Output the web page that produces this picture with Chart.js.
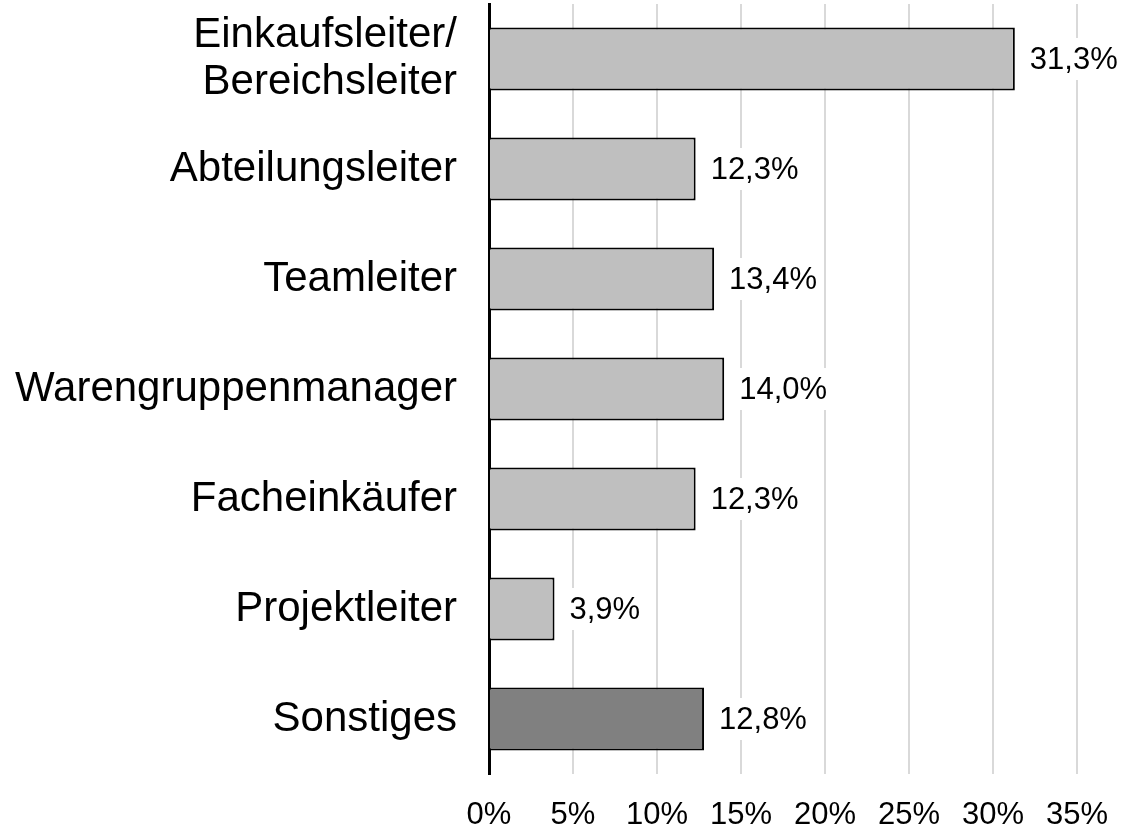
<!DOCTYPE html>
<html>
<head>
<meta charset="utf-8">
<script src="https://cdn.jsdelivr.net/npm/chart.js@4/dist/chart.umd.min.js"></script>
<style>
  html, body { margin: 0; padding: 0; background: #fff; }
  #wrap { width: 1122px; height: 829px; }
</style>
</head>
<body>
<div id="wrap"><canvas id="c" width="1122" height="829"></canvas></div>
<script>
// data
const categories = [
  ['Einkaufsleiter/', 'Bereichsleiter'],
  'Abteilungsleiter',
  'Teamleiter',
  'Warengruppenmanager',
  'Facheinkäufer',
  'Projektleiter',
  'Sonstiges'
];
const shares = [31.3, 12.3, 13.4, 14.0, 12.3, 3.9, 12.8];
const barColors = ['#bfbfbf', '#bfbfbf', '#bfbfbf', '#bfbfbf', '#bfbfbf', '#bfbfbf', '#808080'];
const xTicks = [0, 5, 10, 15, 20, 25, 30, 35];

const FONT = "'Liberation Sans', Arial, sans-serif";

// value labels to the right of each bar, on a white box so grid lines stop behind them
const valueLabels = {
  id: 'valueLabels',
  afterDatasetsDraw(chart) {
    const ctx = chart.ctx;
    const meta = chart.getDatasetMeta(0);
    ctx.save();
    ctx.font = '31px ' + FONT;
    ctx.textBaseline = 'middle';
    ctx.textAlign = 'left';
    meta.data.forEach((bar, i) => {
      const txt = shares[i].toFixed(1).replace('.', ',') + '%';
      const x = bar.x + 15;
      const w = ctx.measureText(txt).width;
      ctx.fillStyle = '#fff';
      ctx.fillRect(x - 4, bar.y - 21, w + 8, 42);
      ctx.fillStyle = '#000';
      ctx.fillText(txt, x, bar.y + 1);
    });
    ctx.restore();
  }
};

new Chart(document.getElementById('c'), {
  type: 'bar',
  data: {
    labels: categories,
    datasets: [{
      data: shares,
      backgroundColor: barColors,
      borderColor: '#000',
      borderWidth: 2,
      borderSkipped: 'start',
      categoryPercentage: 1,
      barPercentage: 0.573
    }]
  },
  options: {
    indexAxis: 'y',
    responsive: false,
    animation: false,
    layout: { padding: { top: 4, right: 45, bottom: 0, left: 0 } },
    plugins: { legend: { display: false }, tooltip: { enabled: false } },
    scales: {
      x: {
        min: 0,
        max: 35,
        afterBuildTicks: (s) => { s.ticks = xTicks.map(v => ({ value: v })); },
        afterFit: (s) => { s.height = 55; s.paddingLeft = 0; s.paddingRight = 0; },
        ticks: {
          callback: (v) => v + '%',
          color: '#000',
          font: { family: FONT, size: 31 },
          padding: 23,
          maxRotation: 0
        },
        grid: { color: '#d9d9d9', lineWidth: 2, drawTicks: false },
        border: { display: false }
      },
      y: {
        afterFit: (s) => { s.width = 489; s.paddingTop = 0; s.paddingBottom = 0; },
        ticks: {
          color: '#000',
          font: { family: FONT, size: 42, lineHeight: 1.1 },
          padding: 32
        },
        grid: { display: false, drawTicks: false },
        border: { display: true, color: '#000', width: 3 }
      }
    }
  },
  plugins: [valueLabels]
});
</script>
</body>
</html>
